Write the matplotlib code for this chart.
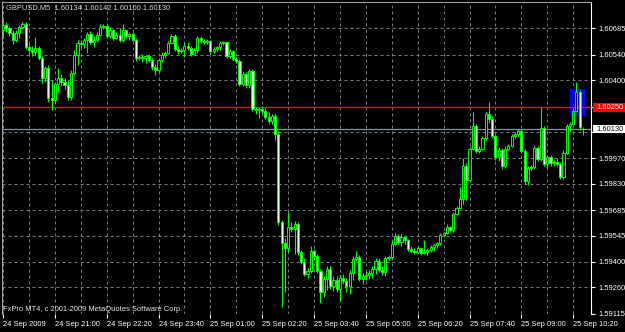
import matplotlib
matplotlib.use('Agg')
import matplotlib.pyplot as plt
from matplotlib.patches import Rectangle
import numpy as np

# Văn bản trên biểu đồ
chart_title = 'GBPUSD,M5  1.60134 1.60142 1.60100 1.60130'
copyright_text = 'FxPro MT4, c 2001-2009 MetaQuotes Software Corp.'

# Dữ liệu nến M5
opens = [1.60676, 1.60704, 1.60687, 1.60660, 1.60621, 1.60660, 1.60693, 1.60709, 1.60583, 1.60566,
         1.60555, 1.60577, 1.60522, 1.60412, 1.60467, 1.60302, 1.60291, 1.60379, 1.60412, 1.60390,
         1.60374, 1.60308, 1.60440, 1.60539, 1.60605, 1.60599, 1.60621, 1.60654, 1.60610, 1.60621,
         1.60649, 1.60693, 1.60698, 1.60643, 1.60676, 1.60632, 1.60649, 1.60621, 1.60676, 1.60643,
         1.60654, 1.60621, 1.60522, 1.60528, 1.60522, 1.60533, 1.60511, 1.60473, 1.60456, 1.60511,
         1.60539, 1.60550, 1.60605, 1.60643, 1.60572, 1.60561, 1.60566, 1.60588, 1.60577, 1.60544,
         1.60566, 1.60632, 1.60616, 1.60610, 1.60616, 1.60561, 1.60572, 1.60583, 1.60605, 1.60610,
         1.60533, 1.60561, 1.60517, 1.60506, 1.60379, 1.60434, 1.60374, 1.60451, 1.60242, 1.60236,
         1.60242, 1.60231, 1.60198, 1.60176, 1.60203, 1.60104, 1.59620, 1.59505, 1.59477, 1.59593,
         1.59582, 1.59609, 1.59455, 1.59400, 1.59334, 1.59351, 1.59461, 1.59433, 1.59351, 1.59235,
         1.59307, 1.59362, 1.59268, 1.59301, 1.59252, 1.59312, 1.59296, 1.59268, 1.59340, 1.59417,
         1.59428, 1.59307, 1.59323, 1.59329, 1.59340, 1.59362, 1.59406, 1.59356, 1.59345, 1.59422,
         1.59428, 1.59499, 1.59543, 1.59510, 1.59538, 1.59521, 1.59472, 1.59461, 1.59455, 1.59477,
         1.59450, 1.59455, 1.59466, 1.59483, 1.59494, 1.59505, 1.59549, 1.59560, 1.59593, 1.59576,
         1.59664, 1.59697, 1.59747, 1.59928, 1.59851, 1.60022, 1.60148, 1.60011, 1.60022, 1.60082,
         1.60214, 1.60187, 1.60093, 1.59978, 1.60016, 1.59928, 1.60022, 1.60038, 1.60093, 1.60104,
         1.60121, 1.60011, 1.59846, 1.59917, 1.59923, 1.60027, 1.59967, 1.60137, 1.59939, 1.59978,
         1.59945, 1.59950, 1.59939, 1.59868, 1.60000, 1.60148, 1.60159, 1.60231, 1.60335, 1.60134]

highs = [1.60731, 1.60720, 1.60698, 1.60676, 1.60676, 1.60704, 1.60720, 1.60720, 1.60605, 1.60588,
         1.60638, 1.60588, 1.60533, 1.60478, 1.60484, 1.60401, 1.60390, 1.60467, 1.60434, 1.60412,
         1.60401, 1.60456, 1.60566, 1.60621, 1.60621, 1.60632, 1.60665, 1.60671, 1.60643, 1.60665,
         1.60709, 1.60709, 1.60709, 1.60693, 1.60682, 1.60665, 1.60687, 1.60709, 1.60682, 1.60665,
         1.60665, 1.60632, 1.60539, 1.60544, 1.60539, 1.60544, 1.60522, 1.60489, 1.60522, 1.60555,
         1.60561, 1.60616, 1.60654, 1.60654, 1.60588, 1.60577, 1.60605, 1.60610, 1.60588, 1.60577,
         1.60643, 1.60643, 1.60627, 1.60627, 1.60621, 1.60583, 1.60588, 1.60616, 1.60616, 1.60616,
         1.60572, 1.60566, 1.60528, 1.60517, 1.60451, 1.60445, 1.60462, 1.60462, 1.60253, 1.60253,
         1.60258, 1.60247, 1.60225, 1.60214, 1.60214, 1.60121, 1.59631, 1.59532, 1.59675, 1.59620,
         1.59626, 1.59620, 1.59466, 1.59422, 1.59367, 1.59488, 1.59472, 1.59444, 1.59362, 1.59323,
         1.59378, 1.59378, 1.59323, 1.59323, 1.59329, 1.59334, 1.59312, 1.59356, 1.59433, 1.59461,
         1.59439, 1.59340, 1.59351, 1.59356, 1.59378, 1.59422, 1.59422, 1.59378, 1.59433, 1.59439,
         1.59516, 1.59560, 1.59554, 1.59554, 1.59549, 1.59527, 1.59488, 1.59477, 1.59488, 1.59483,
         1.59521, 1.59477, 1.59494, 1.59499, 1.59510, 1.59560, 1.59565, 1.59609, 1.59598, 1.59675,
         1.59708, 1.59813, 1.59972, 1.59945, 1.60033, 1.60225, 1.60159, 1.60038, 1.60093, 1.60225,
         1.60280, 1.60203, 1.60104, 1.60033, 1.60027, 1.60038, 1.60049, 1.60104, 1.60115, 1.60132,
         1.60132, 1.60022, 1.59928, 1.59934, 1.60038, 1.60038, 1.60253, 1.60148, 1.59989, 1.59989,
         1.59961, 1.59972, 1.59950, 1.60016, 1.60159, 1.60170, 1.60247, 1.60390, 1.60346, 1.60142]

lows = [1.60632, 1.60665, 1.60643, 1.60599, 1.60610, 1.60632, 1.60682, 1.60572, 1.60544, 1.60533,
        1.60539, 1.60511, 1.60385, 1.60390, 1.60280, 1.60236, 1.60275, 1.60335, 1.60368, 1.60352,
        1.60291, 1.60291, 1.60429, 1.60484, 1.60577, 1.60577, 1.60550, 1.60599, 1.60583, 1.60610,
        1.60643, 1.60682, 1.60632, 1.60632, 1.60621, 1.60627, 1.60610, 1.60610, 1.60632, 1.60621,
        1.60616, 1.60506, 1.60511, 1.60500, 1.60495, 1.60500, 1.60456, 1.60429, 1.60445, 1.60500,
        1.60522, 1.60544, 1.60599, 1.60561, 1.60544, 1.60550, 1.60528, 1.60566, 1.60533, 1.60539,
        1.60550, 1.60605, 1.60599, 1.60599, 1.60550, 1.60550, 1.60561, 1.60566, 1.60594, 1.60522,
        1.60522, 1.60506, 1.60495, 1.60368, 1.60368, 1.60357, 1.60357, 1.60231, 1.60214, 1.60192,
        1.60220, 1.60187, 1.60159, 1.60159, 1.60071, 1.59604, 1.59153, 1.59235, 1.59455, 1.59565,
        1.59444, 1.59439, 1.59389, 1.59323, 1.59312, 1.59340, 1.59411, 1.59340, 1.59175, 1.59208,
        1.59246, 1.59252, 1.59241, 1.59235, 1.59186, 1.59279, 1.59235, 1.59224, 1.59301, 1.59406,
        1.59296, 1.59279, 1.59301, 1.59307, 1.59312, 1.59334, 1.59345, 1.59329, 1.59323, 1.59411,
        1.59417, 1.59494, 1.59499, 1.59488, 1.59499, 1.59461, 1.59450, 1.59444, 1.59450, 1.59439,
        1.59444, 1.59439, 1.59455, 1.59461, 1.59477, 1.59494, 1.59538, 1.59554, 1.59565, 1.59565,
        1.59659, 1.59692, 1.59719, 1.59741, 1.59840, 1.60016, 1.60000, 1.60000, 1.60016, 1.60071,
        1.60165, 1.60082, 1.59961, 1.59956, 1.59912, 1.59917, 1.60016, 1.60033, 1.60082, 1.60088,
        1.60000, 1.59829, 1.59824, 1.59906, 1.59912, 1.59956, 1.59956, 1.59928, 1.59917, 1.59928,
        1.59928, 1.59928, 1.59857, 1.59857, 1.59994, 1.60121, 1.60154, 1.60225, 1.60126, 1.60100]

closes = [1.60704, 1.60687, 1.60660, 1.60621, 1.60660, 1.60693, 1.60709, 1.60583, 1.60566, 1.60555,
          1.60577, 1.60522, 1.60412, 1.60467, 1.60302, 1.60291, 1.60379, 1.60412, 1.60390, 1.60374,
          1.60308, 1.60440, 1.60539, 1.60605, 1.60599, 1.60621, 1.60654, 1.60610, 1.60621, 1.60649,
          1.60693, 1.60698, 1.60643, 1.60676, 1.60632, 1.60649, 1.60621, 1.60676, 1.60643, 1.60654,
          1.60621, 1.60522, 1.60528, 1.60522, 1.60533, 1.60511, 1.60473, 1.60456, 1.60511, 1.60539,
          1.60550, 1.60605, 1.60643, 1.60572, 1.60561, 1.60566, 1.60588, 1.60577, 1.60544, 1.60566,
          1.60632, 1.60616, 1.60610, 1.60616, 1.60561, 1.60572, 1.60583, 1.60605, 1.60610, 1.60533,
          1.60561, 1.60517, 1.60506, 1.60379, 1.60434, 1.60374, 1.60451, 1.60242, 1.60236, 1.60242,
          1.60231, 1.60198, 1.60176, 1.60203, 1.60104, 1.59620, 1.59505, 1.59477, 1.59593, 1.59582,
          1.59609, 1.59455, 1.59400, 1.59334, 1.59351, 1.59461, 1.59433, 1.59351, 1.59235, 1.59307,
          1.59362, 1.59268, 1.59301, 1.59252, 1.59312, 1.59296, 1.59268, 1.59340, 1.59417, 1.59428,
          1.59307, 1.59323, 1.59329, 1.59340, 1.59362, 1.59406, 1.59356, 1.59345, 1.59422, 1.59428,
          1.59499, 1.59543, 1.59510, 1.59538, 1.59521, 1.59472, 1.59461, 1.59455, 1.59477, 1.59450,
          1.59455, 1.59466, 1.59483, 1.59494, 1.59505, 1.59549, 1.59560, 1.59593, 1.59576, 1.59664,
          1.59697, 1.59747, 1.59928, 1.59851, 1.60022, 1.60148, 1.60011, 1.60022, 1.60082, 1.60214,
          1.60187, 1.60093, 1.59978, 1.60016, 1.59928, 1.60022, 1.60038, 1.60093, 1.60104, 1.60121,
          1.60011, 1.59846, 1.59917, 1.59923, 1.60027, 1.59967, 1.60137, 1.59939, 1.59978, 1.59945,
          1.59950, 1.59939, 1.59868, 1.60000, 1.60148, 1.60159, 1.60231, 1.60335, 1.60143, 1.60130]

# Nhãn trục thời gian (mỗi 16 nến) và trục giá
time_labels = ['24 Sep 2009', '24 Sep 21:00', '24 Sep 22:20', '24 Sep 23:40',
               '25 Sep 01:00', '25 Sep 02:20', '25 Sep 03:40', '25 Sep 05:00',
               '25 Sep 06:20', '25 Sep 07:40', '25 Sep 09:00', '25 Sep 10:20']
# hai mức 1.60115 và 1.60255 bị nhãn màu che nên để trống
price_ticks = [1.59115, 1.59260, 1.59400, 1.59545, 1.59685, 1.59830,
               1.59970, 1.60115, 1.60255, 1.60400, 1.60540, 1.60685]
price_labels = ['1.59115', '1.59260', '1.59400', '1.59545', '1.59685', '1.59830',
                '1.59970', '', '', '1.60400', '1.60540', '1.60685']

# Đường ngang đỏ, giá Bid hiện tại và hình chữ nhật xanh
hline_price = 1.60250
bid_price = 1.60130
rect_bars = [174.9, 179.9]
rect_prices = [1.60203, 1.60351]

plt.rcParams['font.family'] = ['Liberation Sans', 'DejaVu Sans']
FS = 5.4
GREEN = '#00ff00'

fig = plt.figure(figsize=(6.25, 3.32), dpi=100, facecolor='black')
ax = fig.add_axes([2 / 625, 18 / 332, 589 / 625, 312 / 332])
ax.set_facecolor('black')

o = np.array(opens)
h = np.array(highs)
l = np.array(lows)
c = np.array(closes)
x = np.arange(len(c))
up = c >= o
body_bottom = np.minimum(o, c)
body_height = np.abs(c - o)

# Hình chữ nhật xanh nằm dưới các nến
ax.add_patch(Rectangle((rect_bars[0], rect_prices[0]), rect_bars[1] - rect_bars[0],
                       rect_prices[1] - rect_prices[0], facecolor='#0000ff',
                       edgecolor='none', zorder=1.5))

# Lưới nét đứt
tick_bars = np.arange(0, len(c), 16)
grid_bars = np.arange(8, len(c), 16)
for p in price_ticks:
    ax.axhline(p, color='#747c86', lw=0.72, ls=(0, (3, 3)), zorder=1)
for b in np.concatenate([tick_bars, grid_bars]):
    ax.axvline(b, color='#747c86', lw=0.72, ls=(0, (3, 3)), zorder=1)

# Đường đỏ và đường giá Bid
ax.axhline(hline_price, color='#ff0000', lw=1.0, zorder=2)
ax.axhline(bid_price, color='#8394a6', lw=0.9, zorder=2)

# Vẽ nến
ax.vlines(x, l, h, color=GREEN, lw=0.8, zorder=3)
ax.bar(x[up], body_height[up], bottom=body_bottom[up], width=0.66,
       color='black', edgecolor=GREEN, lw=0.7, zorder=4)
ax.bar(x[~up], body_height[~up], bottom=body_bottom[~up], width=0.66,
       color='#dcffdc', edgecolor=GREEN, lw=0.7, zorder=4)

ax.set_xlim(-0.31, 181.5)
ax.set_ylim(1.59114, 1.60830)

# Trục
ax.yaxis.tick_right()
ax.set_yticks(price_ticks, price_labels)
ax.set_xticks(tick_bars, time_labels)
for lab in ax.get_xticklabels():
    lab.set_ha('left')
ax.tick_params(axis='x', length=3, width=0.8, color='white', labelcolor='white',
               labelsize=FS, pad=2)
ax.tick_params(axis='y', length=3, width=0.8, color='white', labelcolor='white',
               labelsize=FS, pad=2)

ax.spines['bottom'].set_visible(False)
ax.spines['top'].set_color('#a0a0a0')
ax.spines['left'].set_color('#a0a0a0')
ax.spines['right'].set_color('white')
for s in ['top', 'left', 'right']:
    ax.spines[s].set_linewidth(0.8)

# Nhãn giá có nền màu ở bên phải
ytrans = ax.get_yaxis_transform()
half_h = 0.00023
for price, text, bg, fg in [(hline_price, '1.60250', '#ff0000', 'white'),
                            (bid_price, '1.60130', 'white', 'black')]:
    ax.add_patch(Rectangle((1 + 2 / 589, price - half_h), 34 / 589, 2 * half_h,
                           transform=ytrans, facecolor=bg, edgecolor='none',
                           clip_on=False, zorder=10))
    ax.text(1 + 5 / 589, price, text, transform=ytrans, ha='left', va='center',
            color=fg, fontsize=FS, zorder=11, clip_on=False)

# Tiêu đề và dòng bản quyền
fig.text(6 / 625, 1 - 7.5 / 332, chart_title, ha='left', va='center',
         color='#d8d8d8', fontsize=FS)
fig.text(3 / 625, 1 - 309.5 / 332, copyright_text, ha='left', va='center',
         color='#e8e8e8', fontsize=FS)

fig.savefig('out.png', dpi=100, facecolor='black')
